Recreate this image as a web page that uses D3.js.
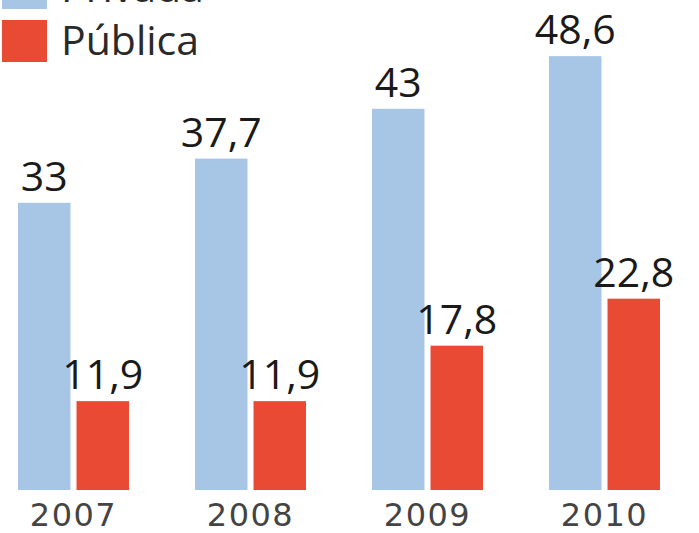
<!DOCTYPE html>
<html lang="es">
<head>
	<meta charset="UTF-8"/>
	<title>Privada / Pública 2007-2010</title>
	<script src="https://d3js.org/d3.v7.min.js"></script>
	<style>
		body { margin: 0; background: #fff; }
		svg { display: block; }
	</style>
</head>
<body>
	<script>
		var w = 699;
		var h = 533;

		var years = ["2007", "2008", "2009", "2010"];
		var series = ["Privada", "Pública"];
		var privada = [33, 37.7, 43, 48.6];
		var publica = [11.9, 11.9, 17.8, 22.8];
		var colors = ["#a7c5e5", "#e84a33"];

		var dataset = years.map(function(y, i) {
			return {year: y, values: [privada[i], publica[i]]};
		});

		var baseline = 490;

		var xScale = d3.scaleBand()
					.domain(years)
					.range([18, 660])
					.paddingInner(0.373)
					.paddingOuter(0);

		var xInner = d3.scaleBand()
					.domain(series)
					.range([0, xScale.bandwidth()])
					.paddingInner(0.103);

		// the zero of the scale sits a bit under the drawn baseline
		var yScale = d3.scaleLinear()
					.domain([0, 50])
					.range([513, 43]);

		var fmt = function(v) { return String(v).replace(".", ","); };

		var svg = d3.select("body")
					.append("svg")
					.attr("width", w)
					.attr("height", h);

		var groups = svg.selectAll("g.year")
			.data(dataset)
			.enter()
			.append("g")
			.attr("class", "year")
			.attr("transform", function(d) { return "translate(" + xScale(d.year) + ",0)"; });

		groups.selectAll("rect")
			.data(function(d) { return d.values; })
			.enter()
			.append("rect")
			.attr("x", function(d, i) { return xInner(series[i]); })
			.attr("y", function(d) { return yScale(d); })
			.attr("width", xInner.bandwidth())
			.attr("height", function(d) { return baseline - yScale(d); })
			.attr("fill", function(d, i) { return colors[i]; });

		groups.selectAll("text.val")
			.data(function(d) { return d.values; })
			.enter()
			.append("text")
			.attr("class", "val")
			.attr("x", function(d, i) { return xInner(series[i]) + xInner.bandwidth() / 2; })
			.attr("y", function(d) { return yScale(d) - 12; })
			.attr("text-anchor", "middle")
			.attr("font-family", "'Open Sans', sans-serif")
			.attr("font-size", 41)
			.attr("fill", "#1a1a1a")
			.text(fmt);

		// year labels
		groups.append("text")
			.attr("x", xScale.bandwidth() / 2)
			.attr("y", 526)
			.attr("text-anchor", "middle")
			.attr("font-family", "'DejaVu Sans', sans-serif")
			.attr("font-size", 32)
			.attr("letter-spacing", 1.5)
			.attr("fill", "#444")
			.text(function(d) { return d.year; });

		// legend
		var legend = svg.selectAll("g.legend")
			.data(series)
			.enter()
			.append("g")
			.attr("class", "legend")
			.attr("transform", function(d, i) { return "translate(2," + (20 - (1 - i) * 53) + ")"; });

		legend.append("rect")
			.attr("width", 45)
			.attr("height", 42)
			.attr("fill", function(d, i) { return colors[i]; });

		legend.append("text")
			.attr("x", 59)
			.attr("y", 35)
			.attr("font-family", "'Open Sans', sans-serif")
			.attr("font-size", 41)
			.attr("fill", "#2a2a2a")
			.text(function(d) { return d; });
	</script>
</body>
</html>
